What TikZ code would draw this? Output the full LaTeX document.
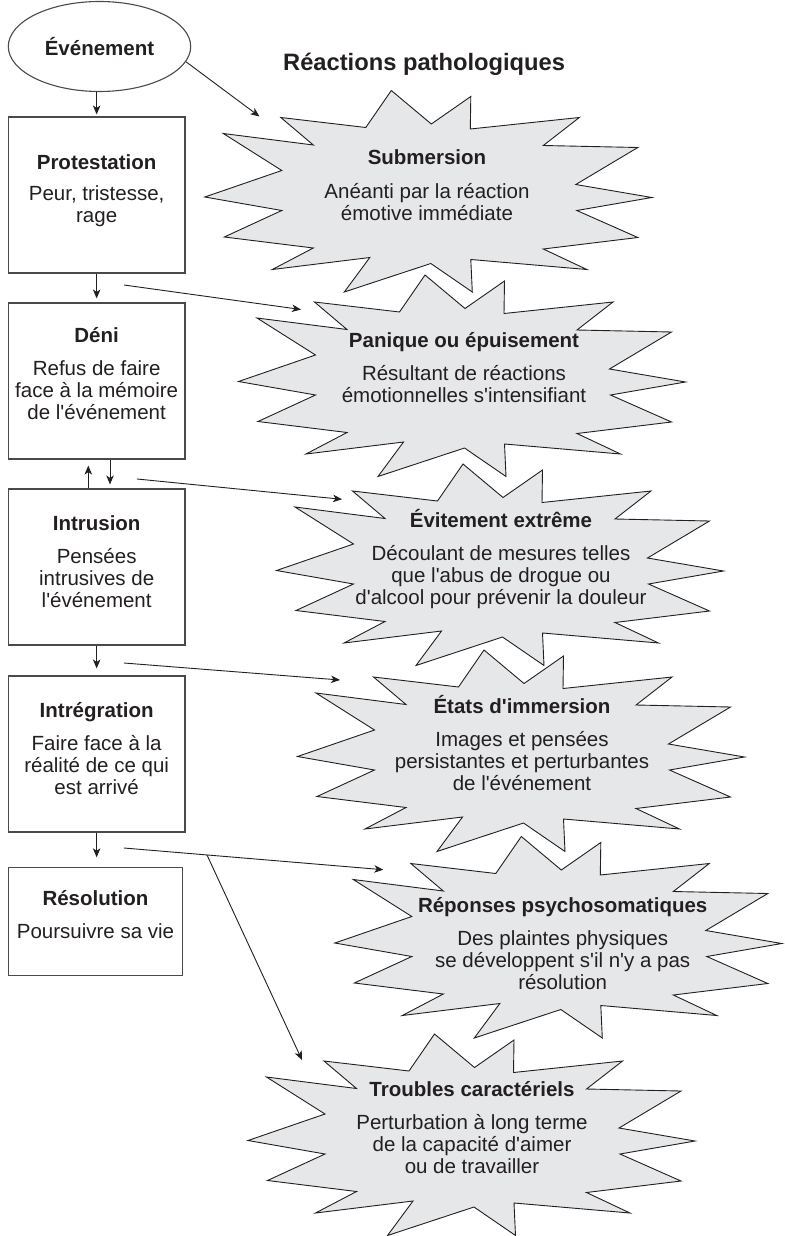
\documentclass[tikz,border=0pt]{standalone}
\usepackage{fontspec}
\setmainfont{Liberation Sans}[Ligatures=TeXOff]
\usetikzlibrary{arrows.meta,shapes.geometric,calc}
\definecolor{ink}{HTML}{231F20}
\definecolor{burstfill}{HTML}{E6E7E9}
\definecolor{boxline}{HTML}{4A4A4A}

% body texts are anchored at the baseline of their last line
\tikzset{
  body/.style={font=\fontsize{20.5}{22}\selectfont, text=ink, align=center, anchor=base, inner sep=0pt},
  headline/.style={font=\fontsize{23.7}{26}\selectfont\bfseries, text=ink, anchor=base west, inner sep=0pt},
  stagebox/.style={draw=boxline, line width=1.1pt, rectangle, minimum width=176.7pt, minimum height=156pt, inner sep=0pt},
  eventshape/.style={draw=boxline, line width=1.1pt, ellipse, minimum width=182.4pt, minimum height=90pt, inner sep=0pt},
  arr/.style={draw=ink, line width=0.9pt, -{Stealth[length=9pt,width=7.5pt,inset=2.5pt]}},
  burst/.pic={
    \draw[draw=ink, line width=0.9pt, fill=burstfill, line join=miter]
      (-37,-101) -- (3,-67.5) -- (42.5,-95) -- (42,-62.5) -- (151,-74) -- (115,-46)
      -- (209.5,-44) -- (147.5,-7) -- (223.5,6) -- (148.5,19) -- (209.5,46) -- (115,57.5)
      -- (158.5,78) -- (42.5,68) -- (44,100.5) -- (2.5,72) -- (-84,100.5) -- (-58.5,66)
      -- (-156,78) -- (-115,56.5) -- (-204,45.5) -- (-146.5,19) -- (-223.5,5.5)
      -- (-146.5,-21) -- (-205,-58) -- (-115,-46.5) -- (-147.5,-74) -- (-62.5,-64) -- cycle;
  }
}

\begin{document}
\begin{tikzpicture}[x=1pt,y=-1pt]
\useasboundingbox (0,0) rectangle (784,1236);

% starbursts of the pathological reactions
\pic (bsub) at (428.3,191.5) {burst};
\pic (bpan) at (462,376) {burst};
\pic (bevi) at (500,565) {burst};
\pic (beta) at (521,751) {burst};
\pic (brep) at (558.3,937.5) {burst};
\pic (btro) at (471.5,1135) {burst};

\node[headline] (title) at (283,70.5) {Réactions pathologiques};

% stages of the normal response
\node[eventshape] (eve) at (99.5,46.5) {};
\node[body] (eveT) at (99.5,56) {\textbf{Événement}};

\node[stagebox] (prot) at (96.65,195) {};
\node[stagebox] (deni) at (96.65,381) {};
\node[stagebox] (intr) at (96.65,567) {};
\node[stagebox] (integ) at (96.65,754) {};
\node[stagebox, minimum width=174.4pt, minimum height=107.3pt] (reso) at (95.5,921.5) {};

\node[body] (protT) at (96.65,222) {\textbf{Protestation}\\[9pt]Peur, tristesse,\\rage};
\node[body] (deniT) at (96.65,419) {\textbf{Déni}\\[11pt]Refus de faire\\face à la mémoire\\de l'événement};
\node[body] (intrT) at (96.65,607) {\textbf{Intrusion}\\[11pt]Pensées\\intrusives de\\l'événement};
\node[body] (integT) at (96.65,794) {\textbf{Intrégration}\\[11pt]Faire face à la\\réalité de ce qui\\est arrivé};
\node[body] (resoT) at (95.5,938) {\textbf{Résolution}\\[11pt]Poursuivre sa vie};

% texts inside the starbursts
\node[body] (subT) at (427,220) {\textbf{Submersion}\\[12pt]Anéanti par la réaction\\émotive immédiate};
\node[body] (panT) at (464,402) {\textbf{Panique ou épuisement}\\[11pt]Résultant de réactions\\émotionnelles s'intensifiant};
\node[body] (eviT) at (501,604) {\textbf{Évitement extrême}\\[11pt]Découlant de mesures telles\\que l'abus de drogue ou\\d'alcool pour prévenir la douleur};
\node[body] (etaT) at (522,790) {\textbf{États d'immersion}\\[11pt]Images et pensées\\persistantes et perturbantes\\de l'événement};
\node[body] (repT) at (562.7,989) {\textbf{Réponses psychosomatiques}\\[11pt]Des plaintes physiques\\se développent s'il n'y a pas\\résolution};
\node[body] (troT) at (472,1173) {\textbf{Troubles caractériels}\\[11pt]Perturbation à long terme\\de la capacité d'aimer\\ou de travailler};

% vertical flow between stages
\draw[arr] (eve.south -| prot.north) -- ($(prot.north)+(0,-2)$);
\draw[arr] (prot.south) -- ($(deni.north)+(0,-4)$);
\draw[arr] ($(deni.south)+(13.35,0)$) -- ($(intr.north)+(13.35,-4)$);
\draw[arr] ($(intr.north)+(-8.35,0)$) -- ($(deni.south)+(-8.35,6)$);
\draw[arr] (intr.south) -- ($(integ.north)+(0,-7)$);
\draw[arr] (integ.south) -- ($(integ.south |- reso.north)+(0,-10)$);

% links towards the pathological reactions
\coordinate (subTip) at (259.5,116.5);
\coordinate (panFrom) at (124,285);
\coordinate (panTip) at (301,309.5);
\coordinate (eviFrom) at (137,479);
\coordinate (eviTip) at (342,499.3);
\coordinate (etaFrom) at (124,663);
\coordinate (etaTip) at (340,680);
\coordinate (repFrom) at (124,848);
\coordinate (repTip) at (383.3,869.7);
\coordinate (troFrom) at ($(repFrom)!0.32!(repTip)$);
\coordinate (troTip) at (302,1060);

\draw[arr] (eve.-10) -- (subTip);
\draw[arr] (panFrom) -- (panTip);
\draw[arr] (eviFrom) -- (eviTip);
\draw[arr] (etaFrom) -- (etaTip);
\draw[arr] (repFrom) -- (repTip);
\draw[arr] (troFrom) -- (troTip);
\end{tikzpicture}
\end{document}
